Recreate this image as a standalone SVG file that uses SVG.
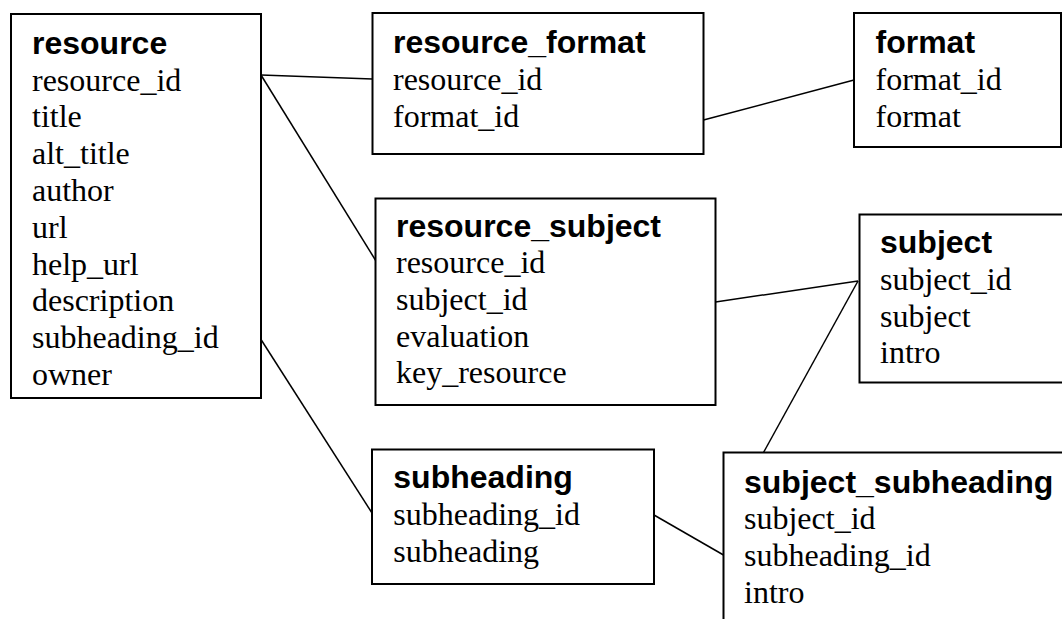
<svg xmlns="http://www.w3.org/2000/svg" width="1062" height="619" viewBox="0 0 1062 619">
<style>
.box{fill:#fff;stroke:#000;stroke-width:2}
.t{font-family:"Liberation Sans",Arial,sans-serif;font-weight:bold;font-size:32px;fill:#000}
.f{font-family:"Liberation Serif","Times New Roman",serif;font-size:32px;fill:#000}
.c line{stroke:#000;stroke-width:1.5}
</style>
<rect x="0" y="0" width="1062" height="619" fill="#fff"/>
<g id="connectors" class="c">
<line x1="261" y1="75" x2="372.5" y2="79"/>
<line x1="703.5" y1="120" x2="854" y2="80"/>
<line x1="261" y1="75" x2="376" y2="261"/>
<line x1="715.5" y1="302" x2="858" y2="281"/>
<line x1="858" y1="281" x2="763.5" y2="452.5"/>
<line x1="261" y1="339.5" x2="372" y2="513"/>
<line x1="654" y1="515" x2="723.5" y2="555"/>
</g>
<g id="resource">
<rect class="box" x="11" y="14" width="250" height="384"/>
<text class="t" x="32" y="54">resource</text>
<text class="f" x="32" y="90.5">resource_id</text>
<text class="f" x="32" y="127.3">title</text>
<text class="f" x="32" y="164.1">alt_title</text>
<text class="f" x="32" y="200.9">author</text>
<text class="f" x="32" y="237.7">url</text>
<text class="f" x="32" y="274.5">help_url</text>
<text class="f" x="32" y="311.3">description</text>
<text class="f" x="32" y="348.1">subheading_id</text>
<text class="f" x="32" y="384.9">owner</text>
</g>
<g id="resource_format">
<rect class="box" x="372.5" y="13" width="331" height="141"/>
<text class="t" x="393" y="53.3">resource_format</text>
<text class="f" x="393" y="89.5">resource_id</text>
<text class="f" x="393" y="126.5">format_id</text>
</g>
<g id="format">
<rect class="box" x="854" y="13" width="207" height="134"/>
<text class="t" x="875.5" y="53.3">format</text>
<text class="f" x="875.5" y="90">format_id</text>
<text class="f" x="875.5" y="126.7">format</text>
</g>
<g id="resource_subject">
<rect class="box" x="375.5" y="198.5" width="340" height="206.5"/>
<text class="t" x="396" y="236.7">resource_subject</text>
<text class="f" x="396" y="273.3">resource_id</text>
<text class="f" x="396" y="310">subject_id</text>
<text class="f" x="396" y="346.7">evaluation</text>
<text class="f" x="396" y="383.3">key_resource</text>
</g>
<g id="subject">
<rect class="box" x="859.5" y="214.5" width="220" height="168"/>
<text class="t" x="880" y="253.3">subject</text>
<text class="f" x="880" y="290">subject_id</text>
<text class="f" x="880" y="326.7">subject</text>
<text class="f" x="880" y="363.3">intro</text>
</g>
<g id="subheading">
<rect class="box" x="372" y="449.5" width="282" height="134.5"/>
<text class="t" x="393.3" y="488">subheading</text>
<text class="f" x="393.3" y="525">subheading_id</text>
<text class="f" x="393.3" y="561.7">subheading</text>
</g>
<g id="subject_subheading">
<rect class="box" x="723.5" y="452.5" width="400" height="300"/>
<text class="t" x="744" y="492.7">subject_subheading</text>
<text class="f" x="744" y="529">subject_id</text>
<text class="f" x="744" y="565.7">subheading_id</text>
<text class="f" x="744" y="602.5">intro</text>
</g>
</svg>
